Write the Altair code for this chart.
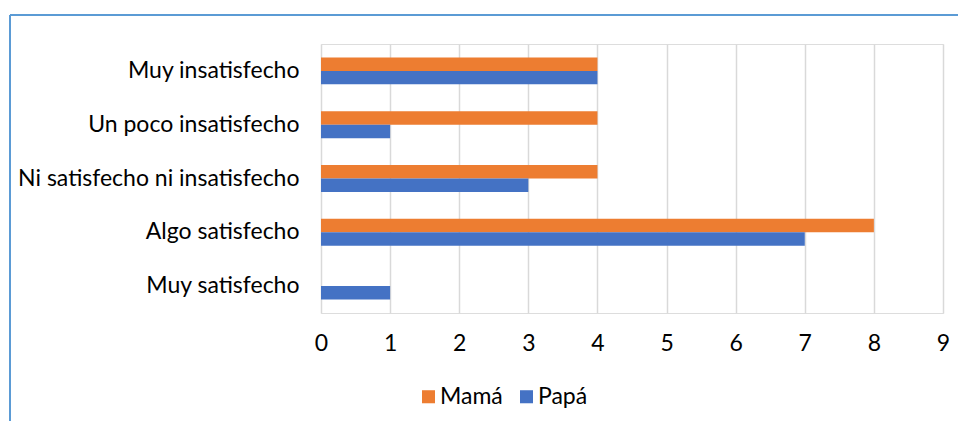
import altair as alt
import pandas as pd

categories = ["Muy insatisfecho", "Un poco insatisfecho", "Ni satisfecho ni insatisfecho",
              "Algo satisfecho", "Muy satisfecho"]
series = ["Mamá", "Papá"]
mama = [4, 4, 4, 8, 0]
papa = [4, 1, 3, 7, 1]
colors = ["#ED7D31", "#4472C4"]
ticks = list(range(0, 10))

rows = []
for c, m, p in zip(categories, mama, papa):
    rows.append({"cat": c, "serie": "Mamá", "val": m})
    rows.append({"cat": c, "serie": "Papá", "val": p})
df = pd.DataFrame(rows)

FONT = "Lato"
FS = 23

bars = alt.Chart(df).mark_bar().encode(
    x=alt.X("val:Q", scale=alt.Scale(domain=[0, 9], nice=False),
            axis=alt.Axis(values=ticks, title=None, domain=False, ticks=False,
                          grid=True, gridColor="#D9D9D9", gridWidth=1.5,
                          labelFontSize=FS, labelFont=FONT, labelColor="#000000",
                          labelPadding=19, labelFlush=False)),
    y=alt.Y("cat:N", sort=categories,
            scale=alt.Scale(paddingInner=0.5, paddingOuter=0.25),
            axis=alt.Axis(title=None, domain=False, ticks=False, grid=False,
                          labelFontSize=FS, labelFont=FONT, labelColor="#000000",
                          labelPadding=22, labelLimit=400)),
    yOffset=alt.YOffset("serie:N", sort=series),
    color=alt.Color("serie:N", scale=alt.Scale(domain=series, range=colors),
                    legend=alt.Legend(title=None, orient="none", legendX=96, legendY=341,
                                      direction="horizontal", symbolType="square",
                                      symbolSize=170, symbolStrokeWidth=0,
                                      labelFontSize=FS, labelFont=FONT,
                                      labelColor="#000000", columnPadding=12,
                                      labelOffset=0, symbolOffset=0)),
)

border_df = pd.DataFrame({"k": [0]})
top_line = alt.Chart(border_df).mark_rule(color="#5B9BD5", strokeWidth=2).encode(
    x=alt.value(-311), x2=alt.value(645), y=alt.value(-29))
left_line = alt.Chart(border_df).mark_rule(color="#5B9BD5", strokeWidth=2).encode(
    x=alt.value(-311), y=alt.value(-29), y2=alt.value(390))

chart = alt.layer(bars, top_line, left_line).properties(
    width=622, height=269,
    autosize=alt.AutoSizeParams(type="none"),
    padding={"left": 313, "top": 36, "right": 15, "bottom": 108},
).configure_view(stroke=None).configure(background="white").configure_legend(
    labelFontSize=FS, labelFont=FONT)

chart.save("out.html", embed_options={"renderer": "svg", "actions": False})
